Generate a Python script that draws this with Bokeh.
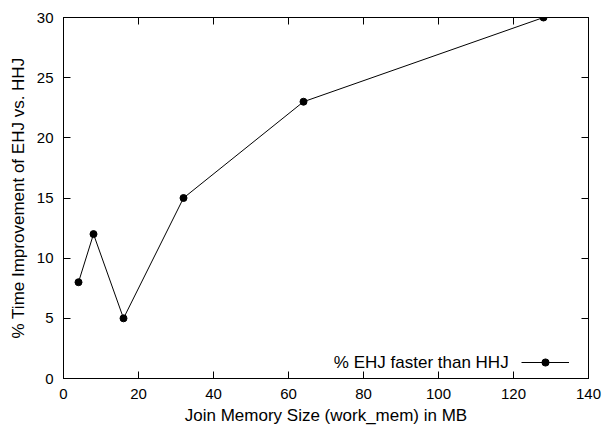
from bokeh.plotting import figure
from bokeh.models import (LinearAxis, Range1d, Legend, LegendItem, Label, FixedTicker,
                          CustomLabelingPolicy)
from bokeh.embed import file_html
from bokeh.resources import INLINE

# Join memory (MB) vs. % time improvement of EHJ over HHJ
work_mem_mb = [4, 8, 16, 32, 64, 128]
improvement_pct = [8, 12, 5, 15, 23, 30]
x_ticks = [0, 20, 40, 60, 80, 100, 120, 140]
y_ticks = [0, 5, 10, 15, 20, 25, 30]
series_name = "% EHJ faster than HHJ"
x_title = "Join Memory Size (work_mem) in MB"
y_title = "% Time Improvement of EHJ vs. HHJ"

FONT = "Liberation Sans"
TICK_FS = "15px"
TITLE_FS = "17px"

p = figure(width=608, height=428, output_backend="svg", toolbar_location=None,
           x_range=Range1d(0, 140), y_range=Range1d(0, 30),
           min_border_left=63, min_border_right=18, min_border_top=17, min_border_bottom=50,
           x_axis_location=None, y_axis_location=None)
p.grid.visible = False
p.background_fill_color = "white"
p.border_fill_color = "white"
p.outline_line_color = "black"
p.outline_line_width = 1

no_labels = CustomLabelingPolicy(code="return new Set()")


def style_axis(ax, labels=True):
    ax.axis_line_color = "black"
    ax.axis_line_width = 1
    ax.major_tick_in = 7
    ax.major_tick_out = 0
    ax.major_tick_line_color = "black"
    ax.minor_tick_line_color = None
    ax.major_label_text_font = FONT
    ax.major_label_text_font_size = TICK_FS
    ax.major_label_text_color = "black"
    ax.major_label_standoff = 10
    ax.axis_label_text_font = FONT
    ax.axis_label_text_font_size = TITLE_FS
    ax.axis_label_text_font_style = "normal"
    ax.axis_label_text_color = "black"
    if not labels:
        ax.major_label_policy = no_labels
        ax.major_label_standoff = 0


xb = LinearAxis(ticker=FixedTicker(ticks=x_ticks), axis_label=x_title)
style_axis(xb)
xb.axis_label_standoff = 4
yl = LinearAxis(ticker=FixedTicker(ticks=y_ticks), axis_label=y_title)
style_axis(yl)
yl.axis_label_standoff = 6
xt = LinearAxis(ticker=FixedTicker(ticks=x_ticks))
style_axis(xt, labels=False)
yr = LinearAxis(ticker=FixedTicker(ticks=y_ticks))
style_axis(yr, labels=False)
p.add_layout(xb, "below")
p.add_layout(yl, "left")
p.add_layout(xt, "above")
p.add_layout(yr, "right")

line_r = p.line(work_mem_mb, improvement_pct, line_color="black", line_width=1)
dot_r = p.scatter(work_mem_mb, improvement_pct, size=7, fill_color="black", line_color="black")

# Key sample (line + dot); its text is set to the left of it below
legend = Legend(items=[LegendItem(label=" ", renderers=[line_r, dot_r])],
                location=(458, 7), padding=0, margin=0, spacing=0,
                glyph_width=48, glyph_height=18, label_standoff=0, label_width=0,
                label_height=18, label_text_font=FONT, label_text_font_size="12px",
                border_line_color=None, background_fill_alpha=0)
p.add_layout(legend, "center")
p.add_layout(Label(x=118.7, y=1.33, text=series_name, text_align="right",
                   text_baseline="middle", text_font=FONT, text_font_size=TITLE_FS,
                   text_color="black"))

open("out.html", "w").write(file_html(p, INLINE))
